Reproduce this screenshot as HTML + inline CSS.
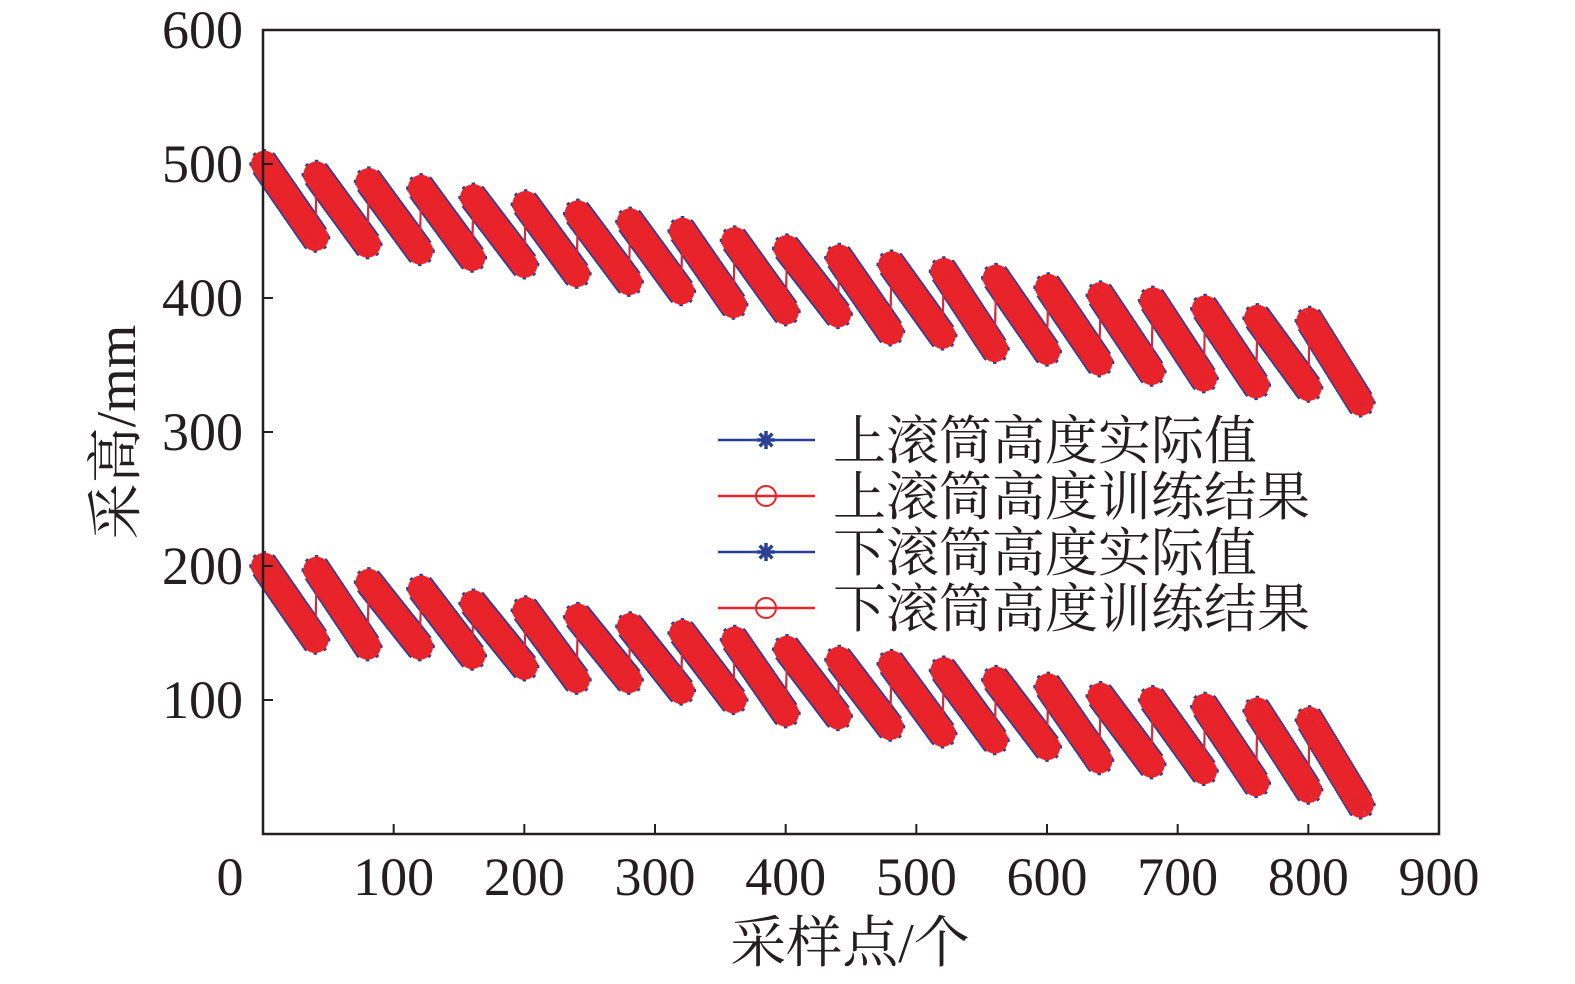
<!DOCTYPE html>
<html><head><meta charset="utf-8"><style>
body{margin:0;background:#fff}
svg{display:block}
text{font-family:"Liberation Serif","Noto Serif CJK SC",serif;fill:#231f20}
</style></head><body>
<svg id="chart" width="1575" height="984" viewBox="0 0 1575 984" xmlns="http://www.w3.org/2000/svg">
<g id="marks"></g>
<g id="axes"></g>
</svg>
<script>
const cycleStarts=[0,40,80,120,160,200,240,280,320,360,400,440,480,520,560,600,640,680,720,760,800];
const upperTop=[500,492,487,482,475,470,463,457,450,443,437,430,425,420,415,408,402,398,392,385,383];
const upperBottom=[445,440,435,430,425,418,412,405,395,390,388,375,372,362,360,352,345,340,335,333,322];
const lowerTop=[200,197,188,183,172,167,162,155,150,145,138,130,127,122,115,110,103,100,95,92,85];
const lowerBottom=[145,140,140,133,125,115,115,107,100,90,88,80,75,70,65,55,52,47,38,33,22];
const xTicks=[100,200,300,400,500,600,700,800,900];
const yTicks=[100,200,300,400,500,600];
const legendLabels=["上滚筒高度实际值","上滚筒高度训练结果","下滚筒高度实际值","下滚筒高度训练结果"];

const X0=263,X1=1439,Y0=834,Y1=30;
const sx=v=>X0+(v/900)*(X1-X0);
const sy=v=>Y0-(v/600)*(Y0-Y1);
const NS="http://www.w3.org/2000/svg";
const marks=document.getElementById('marks');
const axes=document.getElementById('axes');
function mk(tag,attrs,parent){const e=document.createElementNS(NS,tag);for(const k in attrs)e.setAttribute(k,attrs[k]);parent.appendChild(e);return e;}

function seriesPoints(tops,bottoms){
  const pts=[];
  for(let c=0;c<cycleStarts.length;c++){
    const s=cycleStarts[c];
    for(let i=0;i<=39;i++){
      pts.push([s+1+i,tops[c]+(bottoms[c]-tops[c])*i/39]);
    }
  }
  return pts;
}
function star(g,x,y,col,r){
  let d='';
  for(let a=0;a<4;a++){const t=a*Math.PI/4;d+=`M${x-r*Math.cos(t)},${y-r*Math.sin(t)}L${x+r*Math.cos(t)},${y+r*Math.sin(t)}`;}
  mk('path',{d:d,stroke:col,'stroke-width':3.5,fill:'none'},g);
}
function drawSeries(pts,col,kind,name){
  const g=mk('g',{},marks);
  
  
  const d=pts.map((p,i)=>(i?'L':'M')+sx(p[0]).toFixed(1)+','+sy(p[1]).toFixed(1)).join('');
  mk('path',{d:d,stroke:col,'stroke-width':2,fill:'none'},g);
  pts.forEach(p=>{
    if(kind==='star')star(g,sx(p[0]),sy(p[1]),col,15);
    else mk('circle',{cx:sx(p[0]),cy:sy(p[1]),r:12,stroke:col,'stroke-width':2.5,fill:'none'},g);
  });
}
const blue='#2b3f94',red='#e8232a';
drawSeries(seriesPoints(upperTop,upperBottom),blue,'star','upper-actual-series');
drawSeries(seriesPoints(lowerTop,lowerBottom),blue,'star','lower-actual-series');
drawSeries(seriesPoints(upperTop,upperBottom),red,'circle','upper-trained-series');
drawSeries(seriesPoints(lowerTop,lowerBottom),red,'circle','lower-trained-series');

const fr=mk('rect',{x:X0,y:Y1,width:X1-X0,height:Y0-Y1,fill:'none',stroke:'#231f20','stroke-width':2.5},axes);


xTicks.forEach(v=>{
  mk('line',{x1:sx(v),x2:sx(v),y1:Y0,y2:Y0-10,stroke:'#231f20','stroke-width':2},axes);
  const t=mk('text',{x:sx(v),y:895,'font-size':54,'text-anchor':'middle'},axes);
  t.textContent=v;
  
  
});
const z=mk('text',{x:230,y:895,'font-size':54,'text-anchor':'middle'},axes);
z.textContent='0';


yTicks.forEach(v=>{
  mk('line',{x1:X0,x2:X0+10,y1:sy(v),y2:sy(v),stroke:'#231f20','stroke-width':2},axes);
  const t=mk('text',{x:243,y:sy(v)+18,'font-size':54,'text-anchor':'end'},axes);
  t.textContent=v;
  
  
});
const xt=mk('text',{x:850,y:962,'font-size':56,'text-anchor':'middle'},axes);
xt.textContent='采样点/个';


const yt=mk('text',{x:0,y:0,'font-size':56,'text-anchor':'middle',transform:'translate(135,432) rotate(-90)'},axes);
yt.textContent='采高/mm';



const lg=mk('g',{},axes);


legendLabels.forEach((lab,i)=>{
  const y=440+i*56;
  const col=i%2===0?blue:red;
  const e=mk('g',{},lg);
  
  
  mk('line',{x1:718,x2:815,y1:y,y2:y,stroke:col,'stroke-width':2.5},e);
  if(i%2===0)star(e,766,y,col,9);else mk('circle',{cx:766,cy:y,r:10,stroke:col,'stroke-width':2,fill:'none'},e);
  const t=mk('text',{x:833,y:y+19,'font-size':53},e);
  t.textContent=lab;
});
</script>
</body></html>
